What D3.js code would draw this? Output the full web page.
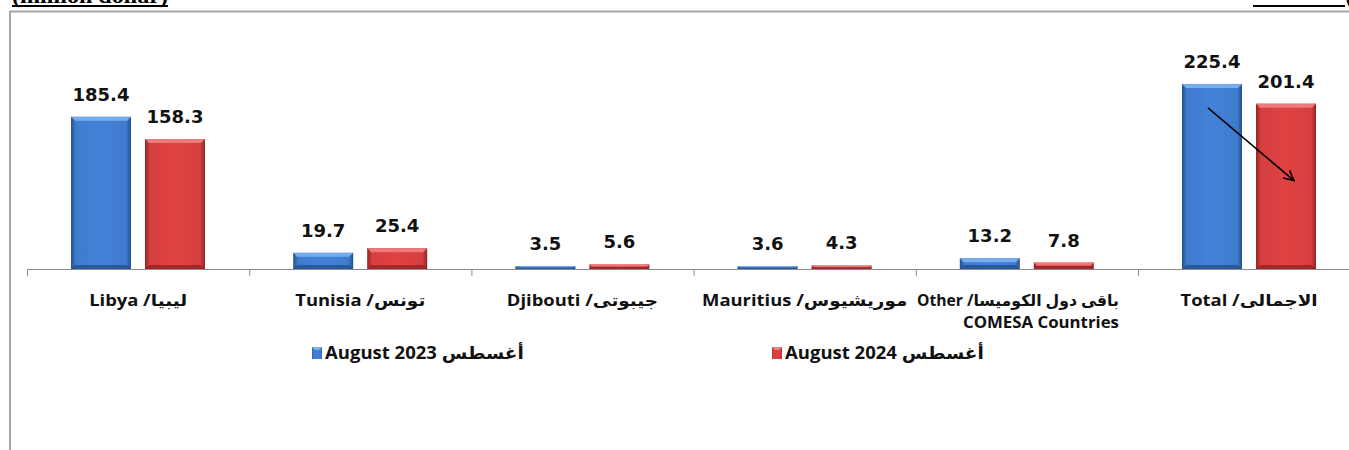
<!DOCTYPE html>
<html>
<head>
<meta charset="utf-8">
<script src="https://cdn.jsdelivr.net/npm/d3@7"></script>
<style>
  html, body { margin: 0; padding: 0; background: #fff; }
  svg { display: block; }
</style>
</head>
<body>
<svg id="chart" width="1349" height="450"></svg>
<script>
// Exports to COMESA countries (million dollar)
const categories = ["Libya", "Tunisia", "Djibouti", "Mauritius", "Other", "Total"];
const categoryLabels = [
  ["Libya /ليبيا"],
  ["Tunisia /تونس"],
  ["Djibouti /جيبوتى"],
  ["Mauritius /موريشيوس"],
  ["Other /باقى دول الكوميسا", "COMESA Countries"],
  ["Total /الاجمالى"]
];
const seriesNames = ["August  2023 أغسطس", "August  2024 أغسطس"];
const aug2023 = [185.4, 19.7, 3.5, 3.6, 13.2, 225.4];
const aug2024 = [158.3, 25.4, 5.6, 4.3, 7.8, 201.4];

const series = [aug2023, aug2024];
const palette = [
  { base: "#3f7bcd", light: "#7eb0ee", dark: "#24508f" },
  { base: "#d43f3f", light: "#ef8080", dark: "#962222" }
];

const svg = d3.select("#chart");
const defs = svg.append("defs");

palette.forEach((c, i) => {
  const g = defs.append("linearGradient").attr("id", "body" + i)
    .attr("x1", "0").attr("x2", "1").attr("y1", "0").attr("y2", "0");
  g.append("stop").attr("offset", "0").attr("stop-color", c.dark);
  g.append("stop").attr("offset", "0.08").attr("stop-color", c.base);
  g.append("stop").attr("offset", "0.5").attr("stop-color", d3.color(c.base).brighter(0.15));
  g.append("stop").attr("offset", "0.92").attr("stop-color", c.base);
  g.append("stop").attr("offset", "1").attr("stop-color", c.dark);
});

defs.append("marker").attr("id", "arrowHead")
  .attr("viewBox", "0 0 12 12").attr("refX", 11).attr("refY", 6)
  .attr("markerWidth", 12).attr("markerHeight", 12)
  .attr("markerUnits", "userSpaceOnUse").attr("orient", "auto")
  .append("path").attr("d", "M1,1 L11,6 L1,11")
  .attr("fill", "none").attr("stroke", "#000").attr("stroke-width", 1.6);

// Horizontally stretched bold label, anchored at (x, y)
function stretchedText(parent, x, y, str, size, sx, anchor) {
  return parent.append("text")
    .attr("transform", `translate(${x},${y}) scale(${sx},1)`)
    .attr("text-anchor", anchor)
    .attr("font-family", "Open Sans, DejaVu Sans").attr("font-weight", "bold")
    .attr("font-size", size).attr("fill", "#111").attr("direction", "ltr")
    .text(str);
}

// Unit captions (top edge)
svg.append("text").attr("x", 12).attr("y", 3)
  .attr("font-family", "Liberation Serif").attr("font-weight", "bold")
  .attr("font-size", 22).attr("textLength", 156).attr("lengthAdjust", "spacingAndGlyphs")
  .text("(million dollar)");
svg.append("rect").attr("x", 12).attr("y", 5).attr("width", 156).attr("height", 2).attr("fill", "#000");

svg.append("text").attr("x", 1345).attr("y", 5).attr("text-anchor", "end")
  .attr("font-family", "DejaVu Sans").attr("font-weight", "bold").attr("font-size", 18)
  .attr("direction", "rtl")
  .text("(مليون دولار)");
svg.append("rect").attr("x", 1253).attr("y", 5).attr("width", 92).attr("height", 2).attr("fill", "#000");

// Frame
svg.append("path").attr("d", "M10,450 V11.5 H1349")
  .attr("fill", "none").attr("stroke", "#a6a6a6").attr("stroke-width", 2);

// Scales
const baseY = 269;
const x = d3.scaleBand().domain(categories).range([27, 27 + 6 * 222.2]).padding(0);
const xs = d3.scaleBand().domain([0, 1]).range([44, 178]).paddingInner(14 / 74).paddingOuter(0);
const y = d3.scaleLinear().domain([0, 250]).range([baseY, baseY - 250 * 0.821]);

// Category axis
const axis = d3.axisBottom(x).tickSize(0).tickFormat(() => "");
const axisG = svg.append("g").attr("transform", `translate(0,${baseY})`).call(axis);
axisG.select(".domain").attr("stroke", "#8c8c8c").attr("d", `M27,0.5H1349`);
const bounds = categories.map(c => x(c));
axisG.selectAll(".bound").data(bounds).join("line").attr("class", "bound")
  .attr("x1", d => d + 0.5).attr("x2", d => d + 0.5).attr("y1", 0).attr("y2", 7)
  .attr("stroke", "#8c8c8c");

// Bars
const bev = 4;
series.forEach((vals, si) => {
  const c = palette[si];
  const g = svg.append("g");
  const bars = g.selectAll("g.bar").data(vals.map((v, i) => ({ v, cat: categories[i] })))
    .join("g").attr("class", "bar");
  bars.each(function (d) {
    const sel = d3.select(this);
    const x0 = x(d.cat) + xs(si);
    const w = xs.bandwidth();
    const top = y(d.v);
    const h = baseY - top;
    const b = Math.min(bev, h / 2);
    sel.append("rect").attr("x", x0).attr("y", top).attr("width", w).attr("height", h)
      .attr("fill", `url(#body${si})`);
    // top bevel
    sel.append("path")
      .attr("d", `M${x0},${top} H${x0 + w} L${x0 + w - b},${top + b} H${x0 + b} Z`)
      .attr("fill", c.light).attr("opacity", 0.9);
    // bottom bevel
    sel.append("path")
      .attr("d", `M${x0},${baseY} H${x0 + w} L${x0 + w - b},${baseY - b} H${x0 + b} Z`)
      .attr("fill", c.dark).attr("opacity", 0.8);
    sel.append("text")
      .attr("x", x0 + w / 2).attr("y", top - 16)
      .attr("text-anchor", "middle")
      .attr("font-family", "DejaVu Sans").attr("font-weight", "bold").attr("font-size", 18)
      .attr("fill", "#111")
      .text(d.v.toFixed(1));
  });
});

// Category labels; the two-line label is right-aligned like its source paragraph
categoryLabels.forEach((lines, i) => {
  const cx = x(categories[i]) + x.bandwidth() / 2;
  if (lines.length === 1) {
    stretchedText(svg, cx, 306, lines[0], 16, 1.15, "middle");
  } else {
    const right = cx + 92;
    stretchedText(svg, right, 306, lines[0], 16, 0.98, "end");
    stretchedText(svg, right, 328, lines[1], 16, 1.05, "end");
  }
});

// Decline arrow between the two totals
const tx = x("Total");
svg.append("line")
  .attr("x1", tx + xs(0) + 26).attr("y1", y(aug2023[5]) + 24)
  .attr("x2", tx + xs(1) + 38).attr("y2", y(aug2024[5]) + 77)
  .attr("stroke", "#000").attr("stroke-width", 1.6)
  .attr("marker-end", "url(#arrowHead)");

// Legend
const legendX = [312, 772];
seriesNames.forEach((name, i) => {
  const g = svg.append("g").attr("transform", `translate(${legendX[i]},347)`);
  g.append("rect").attr("width", 10).attr("height", 12).attr("fill", `url(#body${i})`);
  g.append("path").attr("d", "M0,0 H10 L7,3 H3 Z").attr("fill", palette[i].light);
  stretchedText(g, 13, 12, name, 17, 1.09, "start");
});
</script>
</body>
</html>
